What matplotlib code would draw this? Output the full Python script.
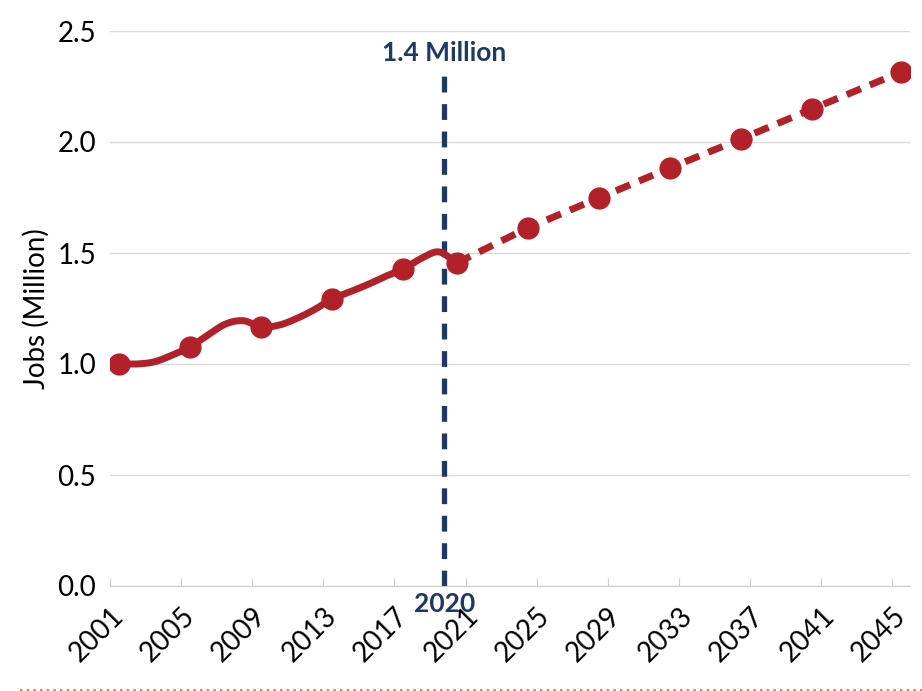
import numpy as np
import matplotlib.pyplot as plt
from matplotlib.lines import Line2D

# historical jobs (million), annual, markers every 4 years
hist_years = [2001, 2002, 2003, 2004, 2005, 2006, 2007, 2008, 2009, 2010,
              2011, 2012, 2013, 2014, 2015, 2016, 2017, 2018, 2019, 2020]
hist_jobs = [1.00, 1.00, 1.01, 1.04, 1.077, 1.13, 1.18, 1.195, 1.167, 1.175,
             1.205, 1.245, 1.293, 1.325, 1.358, 1.395, 1.428, 1.475, 1.505, 1.455]
hist_marked = [2001, 2005, 2009, 2013, 2017]

# forecast
fc_years = [2020, 2024, 2028, 2032, 2036, 2040, 2045]
fc_jobs = [1.455, 1.613, 1.748, 1.883, 2.014, 2.149, 2.315]

tick_years = list(range(2001, 2046, 4))
cut_year = 2019.8
cut_label = '2020'
cut_note = '1.4 Million'

red = '#B22029'
navy = '#1F3864'


def smooth(x, y, n=12):
    # catmull-rom curve through the points, only for drawing
    x = np.asarray(x, float)
    y = np.asarray(y, float)
    px = np.concatenate([[2 * x[0] - x[1]], x, [2 * x[-1] - x[-2]]])
    py = np.concatenate([[2 * y[0] - y[1]], y, [2 * y[-1] - y[-2]]])
    t = np.linspace(0, 1, n, endpoint=False)
    xs, ys = [], []
    for i in range(1, len(px) - 2):
        for p, out in ((px, xs), (py, ys)):
            p0, p1, p2, p3 = p[i - 1], p[i], p[i + 1], p[i + 2]
            out.extend(0.5 * (2 * p1 + (-p0 + p2) * t
                              + (2 * p0 - 5 * p1 + 4 * p2 - p3) * t ** 2
                              + (-p0 + 3 * p1 - 3 * p2 + p3) * t ** 3))
    xs.append(x[-1])
    ys.append(y[-1])
    return xs, ys


plt.rcParams['font.family'] = ['Lato', 'DejaVu Sans']

fig = plt.figure(figsize=(9.22, 6.91), dpi=100)
ax = fig.add_axes([110 / 922, 1 - 586 / 691, 800 / 922, 555 / 691])

# points sit at mid-year
hx = np.array(hist_years) + 0.5
fx = np.array(fc_years) + 0.5
mx = np.array(hist_marked) + 0.5
my = [hist_jobs[hist_years.index(y)] for y in hist_marked]

sx, sy = smooth(hx, hist_jobs)
ax.plot(sx, sy, color=red, lw=5, solid_joinstyle='round',
        solid_capstyle='round', zorder=3)
ax.plot(mx, my, 'o', color=red, ms=15, zorder=4)
ax.plot(fx, fc_jobs, color=red, lw=5, dashes=(2.2, 1.4), marker='o', ms=15,
        zorder=3)

ax.axvline(cut_year, color=navy, lw=3.8, dashes=(3.0, 2.2), ymax=0.92, zorder=2)
ax.text(cut_year, 2.5 - 0.1, cut_note, color=navy, fontsize=19,
        fontweight='bold', ha='center', va='center')
ax.text(cut_year, -0.08, cut_label, color=navy, fontsize=19,
        fontweight='bold', ha='center', va='center')

ax.set_xlim(2001, 2046)
ax.set_ylim(0, 2.5)
ax.set_xticks(tick_years)
ax.set_xticklabels([str(y) for y in tick_years], rotation=45, ha='right',
                   rotation_mode='anchor', fontsize=20)
ax.set_yticks(np.arange(0, 2.51, 0.5))
ax.set_yticklabels(['%.1f' % v for v in np.arange(0, 2.51, 0.5)], fontsize=20)
ax.set_ylabel('Jobs (Million)', fontsize=20)
ax.yaxis.set_label_coords(-0.075, 0.5)

ax.grid(axis='y', color='#d9d9d9', lw=1)
ax.set_axisbelow(True)
for s in ['top', 'right', 'left']:
    ax.spines[s].set_visible(False)
ax.spines['bottom'].set_color('#cccccc')
ax.tick_params(axis='x', direction='in', length=6, color='#cccccc', pad=12)
ax.tick_params(axis='y', length=0, pad=10)

fig.add_artist(Line2D([20 / 922, 1], [1 / 691, 1 / 691], color='#C07A40',
                      lw=1.2, ls=(0, (1.5, 2.5))))

fig.savefig('out.png', dpi=100)
